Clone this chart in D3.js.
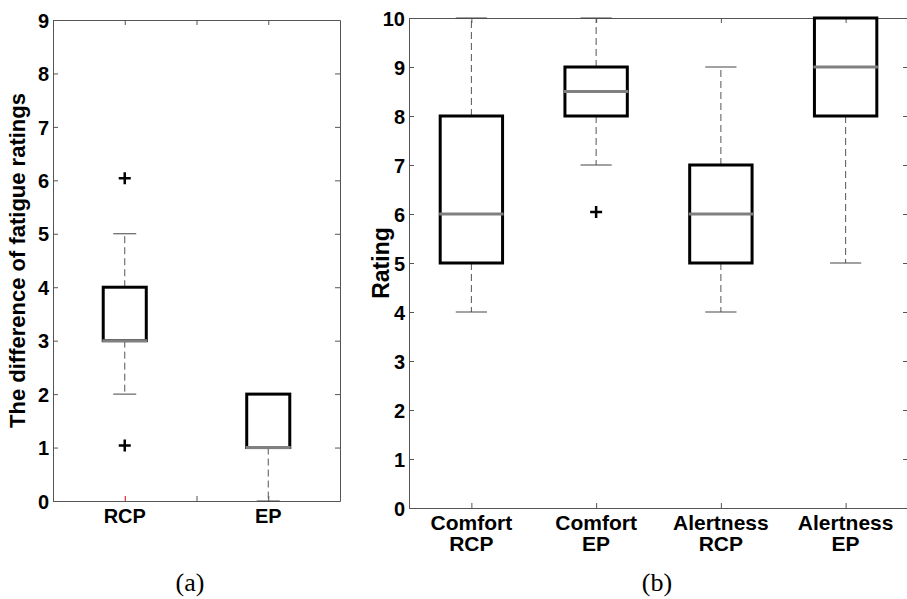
<!DOCTYPE html>
<html>
<head>
<meta charset="utf-8">
<script src="https://cdn.jsdelivr.net/npm/d3@7"></script>
<style>
  body { margin: 0; background: #fff; }
  text { font-family: "Liberation Sans", Arial, sans-serif; font-weight: bold; fill: #000; }
  .caption { font-family: "Liberation Serif", "Times New Roman", serif; font-weight: normal; }
</style>
</head>
<body>
<div id="chart"></div>
<script>
// panel (a): difference of fatigue ratings
const fatigueCats = ["RCP", "EP"];
const fatigueLo = [2, 0];
const fatigueQ1 = [3, 1];
const fatigueMed = [3, 1];
const fatigueQ3 = [4, 2];
const fatigueHi = [5, 2];
const fatigueOut = [[6, 1], []];
const fatigueTicks = [0, 1, 2, 3, 4, 5, 6, 7, 8, 9];

// panel (b): ratings
const ratingCats = [["Comfort", "RCP"], ["Comfort", "EP"], ["Alertness", "RCP"], ["Alertness", "EP"]];
const ratingLo = [4, 7, 4, 5];
const ratingQ1 = [5, 8, 5, 8];
const ratingMed = [6, 8.5, 6, 9];
const ratingQ3 = [8, 9, 7, 10];
const ratingHi = [10, 10, 9, 10];
const ratingOut = [[], [6], [], []];
const ratingTicks = [0, 1, 2, 3, 4, 5, 6, 7, 8, 9, 10];

const width = 907, height = 599;
const axisColor = "#555";

const svg = d3.select("#chart")
  .append("svg")
  .attr("width", width)
  .attr("height", height);

svg.append("rect").attr("width", width).attr("height", height).attr("fill", "#fff");

function drawPanel(p) {
  const n = p.cats.length;
  const x = d3.scaleLinear().domain([0.5, n + 0.5]).range([p.left, p.right]);
  const y = d3.scaleLinear().domain([0, p.yMax]).range([p.bottom, p.top]);
  const g = svg.append("g");

  // frame + ticks (MATLAB style, ticks inward)
  const left = g.append("g").attr("transform", `translate(${p.left},0)`)
    .call(d3.axisLeft(y).tickValues(p.ticks).tickSizeInner(-5).tickSizeOuter(0).tickPadding(4));
  left.selectAll("text").style("font-size", "20px").attr("dy", "0.36em");
  g.append("g").attr("transform", `translate(${p.right},0)`)
    .call(d3.axisRight(y).tickValues(p.ticks).tickSizeInner(-5).tickSizeOuter(0).tickFormat(""));
  g.append("g").attr("transform", `translate(0,${p.top})`)
    .call(d3.axisTop(x).tickValues(p.xTicks).tickSizeInner(-5).tickSizeOuter(0).tickFormat(""));
  const bottom = g.append("g").attr("transform", `translate(0,${p.bottom})`)
    .call(d3.axisBottom(x).tickValues(p.xTicks).tickSizeInner(-5).tickSizeOuter(0).tickFormat(""));
  g.selectAll(".domain").attr("stroke", axisColor);
  g.selectAll(".tick line").attr("stroke", axisColor);
  if (p.redTick) bottom.selectAll(".tick line").filter(d => d === p.redTick).attr("stroke", "#e00");

  // category labels
  p.cats.forEach((c, i) => {
    const lines = Array.isArray(c) ? c : [c];
    const t = g.append("text")
      .attr("text-anchor", "middle")
      .style("font-size", p.catSize + "px");
    lines.forEach((l, j) => {
      t.append("tspan").attr("x", x(i + 1)).attr("y", p.bottom + 22 + j * 21).text(l);
    });
  });

  // y title
  g.append("text")
    .attr("transform", `translate(${p.titleX},${(p.top + p.bottom) / 2}) rotate(-90)`)
    .attr("text-anchor", "middle")
    .style("font-size", p.titleSize + "px")
    .text(p.title);

  // caption
  g.append("text").attr("class", "caption")
    .attr("x", p.capX).attr("y", 591)
    .attr("text-anchor", "middle")
    .style("font-size", "26px")
    .text(p.caption);

  const bw = p.boxW / 2, cw = p.capW / 2;
  const boxes = g.append("g").selectAll("g")
    .data(p.cats.map((c, i) => i))
    .join("g");

  // whiskers
  boxes.append("line")
    .attr("x1", i => x(i + 1)).attr("x2", i => x(i + 1))
    .attr("y1", i => y(p.q3[i])).attr("y2", i => y(p.hi[i]))
    .attr("stroke", "#555").attr("stroke-dasharray", "7,4");
  boxes.append("line")
    .attr("x1", i => x(i + 1)).attr("x2", i => x(i + 1))
    .attr("y1", i => y(p.q1[i])).attr("y2", i => y(p.lo[i]))
    .attr("stroke", "#555").attr("stroke-dasharray", "7,4");
  // caps
  ["hi", "lo"].forEach(k => {
    boxes.append("line")
      .attr("x1", i => x(i + 1 - cw)).attr("x2", i => x(i + 1 + cw))
      .attr("y1", i => y(p[k][i])).attr("y2", i => y(p[k][i]))
      .attr("stroke", "#444");
  });
  // box
  boxes.append("rect")
    .attr("x", i => x(i + 1 - bw))
    .attr("width", i => x(i + 1 + bw) - x(i + 1 - bw))
    .attr("y", i => y(p.q3[i]))
    .attr("height", i => y(p.q1[i]) - y(p.q3[i]))
    .attr("fill", "none").attr("stroke", "#000").attr("stroke-width", 3);
  // median
  boxes.append("line")
    .attr("x1", i => x(i + 1 - bw) - 1).attr("x2", i => x(i + 1 + bw) + 1)
    .attr("y1", i => y(p.med[i])).attr("y2", i => y(p.med[i]))
    .attr("stroke", "#808080").attr("stroke-width", 3);
  // outliers
  boxes.selectAll("path")
    .data(i => p.out[i].map(v => ({ i: i, v: v })))
    .join("path")
    .attr("d", d => {
      const cx = x(d.i + 1), cy = y(d.v) - 2;
      return `M${cx - 6},${cy}H${cx + 6}M${cx},${cy - 6}V${cy + 6}`;
    })
    .attr("stroke", "#000").attr("stroke-width", 2.5).attr("fill", "none");
}

drawPanel({
  left: 53, right: 340, top: 20, bottom: 501, yMax: 9,
  cats: fatigueCats, ticks: fatigueTicks, xTicks: [1, 1.5, 2],
  lo: fatigueLo, q1: fatigueQ1, med: fatigueMed, q3: fatigueQ3, hi: fatigueHi, out: fatigueOut,
  boxW: 0.3, capW: 0.16, catSize: 20, redTick: 1,
  title: "The difference of fatigue ratings", titleX: 25, titleSize: 22,
  caption: "(a)", capX: 190
});

drawPanel({
  left: 409, right: 908, top: 18, bottom: 508, yMax: 10,
  cats: ratingCats, ticks: ratingTicks, xTicks: [1, 2, 3, 4],
  lo: ratingLo, q1: ratingQ1, med: ratingMed, q3: ratingQ3, hi: ratingHi, out: ratingOut,
  boxW: 0.5, capW: 0.25, catSize: 21,
  title: "Rating", titleX: 389, titleSize: 23,
  caption: "(b)", capX: 657
});
</script>
</body>
</html>
